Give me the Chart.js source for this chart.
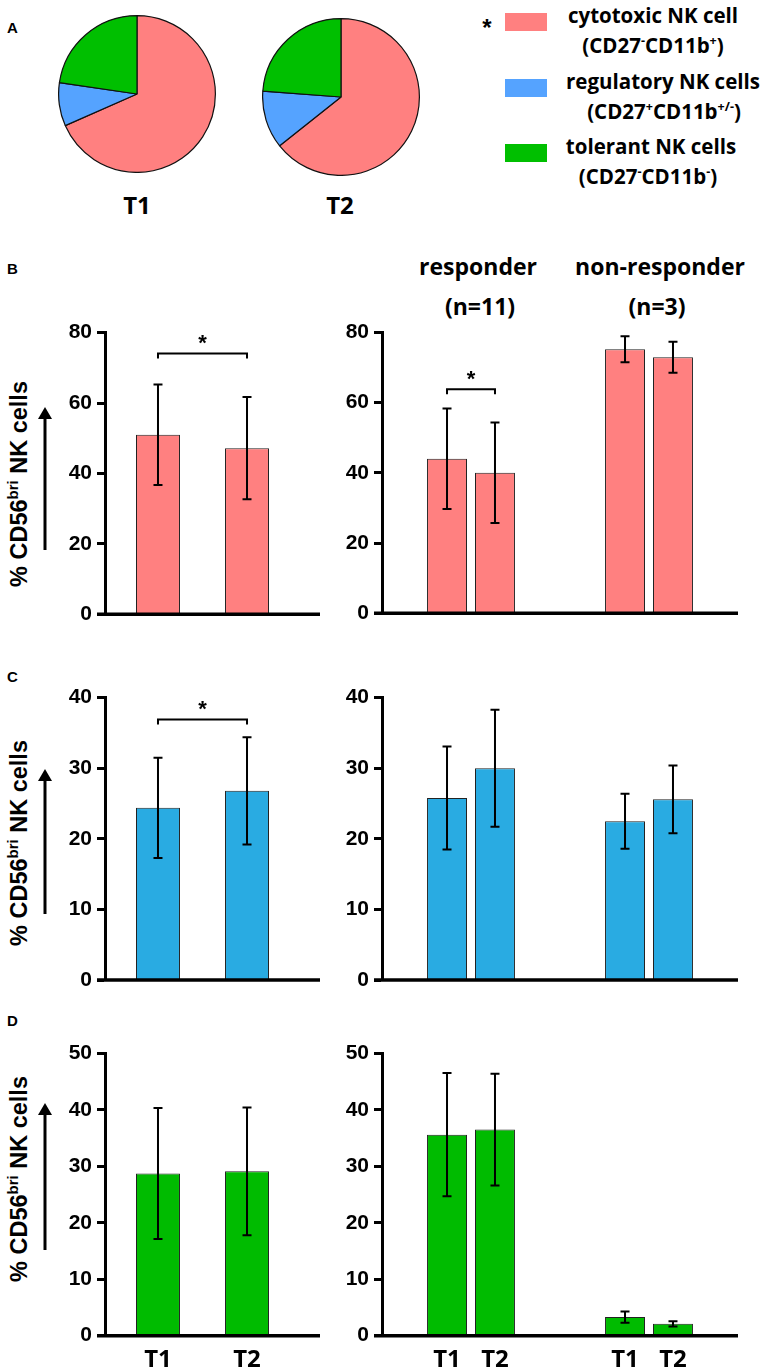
<!DOCTYPE html>
<html><head><meta charset="utf-8">
<script src="https://cdn.jsdelivr.net/npm/chart.js@4.4.1/dist/chart.umd.min.js"></script>
<style>
html,body{margin:0;padding:0;background:#fff;}
body{width:765px;height:1371px;position:relative;overflow:hidden;color:#000;}
canvas{position:absolute;}
.t{position:absolute;white-space:nowrap;font-family:'Open Sans',sans-serif;font-weight:700;line-height:1;transform:translate(-50%,-50%);}
.lg{font-size:20.5px;}
.hd{font-size:23px;}
.sp{font-size:12.5px;position:relative;top:-8px;}
.ytitle{position:absolute;white-space:nowrap;font-family:'Liberation Sans',Arial,sans-serif;font-weight:700;font-size:23.5px;line-height:1;transform:translate(-50%,-50%) rotate(-90deg);}
.ytitle span{font-size:15px;position:relative;top:-9px;}
.letter{position:absolute;font-family:'Liberation Sans',Arial,sans-serif;font-weight:700;font-size:15px;line-height:1;}
.sw{position:absolute;width:42px;height:18px;}
</style></head><body>

<div class="letter" style="left:7px;top:20px">A</div>
<div class="letter" style="left:7px;top:261px">B</div>
<div class="letter" style="left:7px;top:669px">C</div>
<div class="letter" style="left:7px;top:1013px">D</div>

<canvas id="pie1" width="158" height="158" style="left:58px;top:15px;width:158px;height:158px"></canvas>
<canvas id="pie2" width="158" height="158" style="left:262px;top:18px;width:158px;height:158px"></canvas>
<div class="t" style="left:137px;top:205px;font-size:24px">T1</div>
<div class="t" style="left:340px;top:205px;font-size:24px">T2</div>

<div class="t" style="left:487px;top:28px;font-family:'Liberation Sans',Arial;font-size:24px">*</div>
<div class="sw" id="sw0" style="left:505px;top:13px"></div>
<div class="sw" id="sw1" style="left:505px;top:79px"></div>
<div class="sw" id="sw2" style="left:505px;top:144px"></div>
<div class="t lg" style="left:653px;top:15px">cytotoxic NK cell</div>
<div class="t lg" style="left:653px;top:45px">(CD27<span class="sp">-</span>CD11b<span class="sp">+</span>)</div>
<div class="t lg" style="left:663px;top:81px">regulatory NK cells</div>
<div class="t lg" style="left:664px;top:111px">(CD27<span class="sp">+</span>CD11b<span class="sp">+/-</span>)</div>
<div class="t lg" style="left:651px;top:146px">tolerant NK cells</div>
<div class="t lg" style="left:648px;top:176px">(CD27<span class="sp">-</span>CD11b<span class="sp">-</span>)</div>

<div class="t hd" style="left:478px;top:266px">responder</div>
<div class="t hd" style="left:480px;top:306px">(n=11)</div>
<div class="t hd" style="left:660px;top:266px">non-responder</div>
<div class="t hd" style="left:657px;top:306px">(n=3)</div>

<div class="ytitle" style="left:20px;top:484px">% CD56<span>bri</span> NK cells</div>
<div class="ytitle" style="left:20px;top:843px">% CD56<span>bri</span> NK cells</div>
<div class="ytitle" style="left:20px;top:1179px">% CD56<span>bri</span> NK cells</div>

<svg style="position:absolute;left:0;top:0" width="70" height="1371">
  <g stroke="#000" stroke-width="3" fill="#000">
    <line x1="45" y1="550" x2="45" y2="414"/>
    <line x1="45" y1="914" x2="45" y2="776"/>
    <line x1="45" y1="1250" x2="45" y2="1110"/>
  </g>
  <g fill="#000">
    <polygon points="45,407 38,419 52,419"/>
    <polygon points="45,769 38,781 52,781"/>
    <polygon points="45,1103 38,1115 52,1115"/>
  </g>
</svg>

<canvas id="bL" width="340" height="350" style="left:0;top:290px;width:340px;height:350px"></canvas>
<canvas id="bR" width="425" height="350" style="left:340px;top:290px;width:425px;height:350px"></canvas>
<canvas id="cL" width="340" height="350" style="left:0;top:655px;width:340px;height:350px"></canvas>
<canvas id="cR" width="425" height="350" style="left:340px;top:655px;width:425px;height:350px"></canvas>
<canvas id="dL" width="340" height="361" style="left:0;top:1010px;width:340px;height:361px"></canvas>
<canvas id="dR" width="425" height="361" style="left:340px;top:1010px;width:425px;height:361px"></canvas>

<script>
// ---------- DATA ----------
const pieLabels = ['cytotoxic NK cell', 'regulatory NK cells', 'tolerant NK cells'];
const pieT1 = [68.4, 8.9, 22.7];
const pieT2 = [64.3, 11.9, 23.8];

const timepoints = ['T1', 'T2'];
const groups = ['responder', 'non-responder'];

// B: cytotoxic NK cells (mean, SD)
const cytoAllMean = [51.0, 47.2];
const cytoAllSD   = [14.3, 14.5];
const cytoT1Mean  = [44.0, 75.2];   // responder, non-responder
const cytoT1SD    = [14.3, 3.7];
const cytoT2Mean  = [40.0, 72.9];
const cytoT2SD    = [14.3, 4.4];

// C: regulatory NK cells
const regAllMean = [24.4, 26.8];
const regAllSD   = [7.1, 7.6];
const regT1Mean  = [25.8, 22.5];
const regT1SD    = [7.3, 3.9];
const regT2Mean  = [30.0, 25.6];
const regT2SD    = [8.3, 4.8];

// D: tolerant NK cells
const tolAllMean = [28.7, 29.1];
const tolAllSD   = [11.6, 11.3];
const tolT1Mean  = [35.6, 3.3];
const tolT1SD    = [10.9, 1.0];
const tolT2Mean  = [36.5, 2.1];
const tolT2SD    = [9.9, 0.45];

const yTicksB = [0, 20, 40, 60, 80];
const yTicksC = [0, 10, 20, 30, 40];
const yTicksD = [0, 10, 20, 30, 40, 50];

// significance brackets (value on y axis)
const sigB_all = 74.1;
const sigB_resp = 63.8;
const sigC_all = 36.9;

// ---------- STYLE ----------
const pieColors = ['#FF8080', '#55A3FF', '#00BF00'];
const colB = '#FF8080', colC = '#29ABE2', colD = '#00BB00';

['sw0','sw1','sw2'].forEach((id,i)=>document.getElementById(id).style.background = pieColors[i]);

const decorPlugin = {
  id: 'decor',
  afterDatasetsDraw(chart, args, o) {
    const ctx = chart.ctx, ys = chart.scales.y, a = chart.chartArea;
    const y0 = ys.getPixelForValue(0);
    ctx.save();
    ctx.strokeStyle = '#000';
    ctx.fillStyle = '#000';
    chart.data.datasets.forEach((ds, di) => {
      chart.getDatasetMeta(di).data.forEach((bar, i) => {
        const v = ds.data[i], e = ds.err[i];
        const yt = ys.getPixelForValue(v + e), yb = ys.getPixelForValue(v - e);
        ctx.lineWidth = 2;
        ctx.beginPath();
        ctx.moveTo(bar.x, yt); ctx.lineTo(bar.x, yb);
        ctx.moveTo(bar.x - o.cap, yt); ctx.lineTo(bar.x + o.cap, yt);
        ctx.moveTo(bar.x - o.cap, yb); ctx.lineTo(bar.x + o.cap, yb);
        ctx.stroke();
      });
    });
    ctx.lineWidth = 3.4;
    ctx.beginPath(); ctx.moveTo(a.left - 8, y0); ctx.lineTo(a.right + o.ext, y0); ctx.stroke();
    if (o.bracket) {
      const b1 = chart.getDatasetMeta(o.bracket.from[0]).data[o.bracket.from[1]];
      const b2 = chart.getDatasetMeta(o.bracket.to[0]).data[o.bracket.to[1]];
      const by = ys.getPixelForValue(o.bracket.value);
      ctx.lineWidth = 2;
      ctx.beginPath();
      ctx.moveTo(b1.x, by + 5); ctx.lineTo(b1.x, by); ctx.lineTo(b2.x, by); ctx.lineTo(b2.x, by + 5);
      ctx.stroke();
      ctx.font = 'bold 22px "Liberation Sans", Arial';
      ctx.textAlign = 'center'; ctx.textBaseline = 'alphabetic';
      ctx.fillText('*', (b1.x + b2.x) / 2, by - 3.6);
    }
    if (o.xLabels) {
      ctx.font = 'bold 24px "Open Sans"';
      ctx.textAlign = 'center'; ctx.textBaseline = 'alphabetic';
      chart.data.datasets.forEach((ds, di) =>
        chart.getDatasetMeta(di).data.forEach(bar => ctx.fillText(ds.label, bar.x, y0 + 31.5)));
    }
    ctx.restore();
  }
};

function options(ticks, pad, yWidth, decor) {
  return {
    responsive: false, animation: false, events: [],
    layout: { padding: pad },
    plugins: { legend: { display: false }, tooltip: { enabled: false }, decor: decor },
    scales: {
      x: { display: false },
      y: {
        min: ticks[0], max: ticks[ticks.length - 1],
        afterFit(s) { s.width = yWidth; },
        ticks: { stepSize: ticks[1] - ticks[0], color: '#000', padding: 5,
                 font: { family: 'Liberation Sans', weight: 'bold', size: 21 } },
        grid: { drawOnChartArea: false, drawTicks: true, tickLength: 8, tickWidth: 3, tickColor: '#000', color: '#000' },
        border: { display: true, color: '#000', width: 3 }
      }
    }
  };
}

function barStyle(color) {
  return { backgroundColor: color, borderColor: '#222', borderWidth: 1, borderSkipped: 'bottom' };
}

function leftChart(id, mean, sd, color, ticks, pad, decor) {
  return new Chart(document.getElementById(id), {
    type: 'bar',
    data: {
      labels: [''],
      datasets: timepoints.map((t, i) => Object.assign({
        label: t, data: [mean[i]], err: [sd[i]],
        categoryPercentage: 0.913, barPercentage: 0.494
      }, barStyle(color)))
    },
    options: options(ticks, pad, 105, Object.assign({ cap: 4.5, ext: 20 }, decor)),
    plugins: [decorPlugin]
  });
}

function rightChart(id, m1, s1, m2, s2, color, ticks, pad, decor) {
  const sets = [[m1, s1], [m2, s2]];
  return new Chart(document.getElementById(id), {
    type: 'bar',
    data: {
      labels: groups,
      datasets: timepoints.map((t, i) => Object.assign({
        label: t, data: sets[i][0], err: sets[i][1],
        categoryPercentage: 0.539, barPercentage: 0.833
      }, barStyle(color)))
    },
    options: options(ticks, pad, 42, Object.assign({ cap: 4.5, ext: 0 }, decor)),
    plugins: [decorPlugin]
  });
}

function pie(id, values) {
  return new Chart(document.getElementById(id), {
    type: 'pie',
    data: { labels: pieLabels, datasets: [{ data: values, backgroundColor: pieColors, borderColor: '#111', borderWidth: 1.2 }] },
    options: { responsive: false, animation: false, events: [], layout: { padding: 0 },
               plugins: { legend: { display: false }, tooltip: { enabled: false } } }
  });
}

pie('pie1', pieT1);
pie('pie2', pieT2);

leftChart('bL', cytoAllMean, cytoAllSD, colB, yTicksB, { top: 42.7, bottom: 25.7, left: 0, right: 40 },
  { bracket: { value: sigB_all, from: [0, 0], to: [1, 0] } });
rightChart('bR', cytoT1Mean, cytoT1SD, cytoT2Mean, cytoT2SD, colB, yTicksB, { top: 42.3, bottom: 26.7, left: 0, right: 27 },
  { bracket: { value: sigB_resp, from: [0, 0], to: [1, 0] } });

leftChart('cL', regAllMean, regAllSD, colC, yTicksC, { top: 42.7, bottom: 25, left: 0, right: 40 },
  { bracket: { value: sigC_all, from: [0, 0], to: [1, 0] } });
rightChart('cR', regT1Mean, regT1SD, regT2Mean, regT2SD, colC, yTicksC, { top: 42.7, bottom: 25, left: 0, right: 27 }, {});

leftChart('dL', tolAllMean, tolAllSD, colD, yTicksD, { top: 43.3, bottom: 35.3, left: 0, right: 40 }, { xLabels: true });
rightChart('dR', tolT1Mean, tolT1SD, tolT2Mean, tolT2SD, colD, yTicksD, { top: 43.3, bottom: 35.3, left: 0, right: 27 }, { xLabels: true });
</script>
</body></html>
